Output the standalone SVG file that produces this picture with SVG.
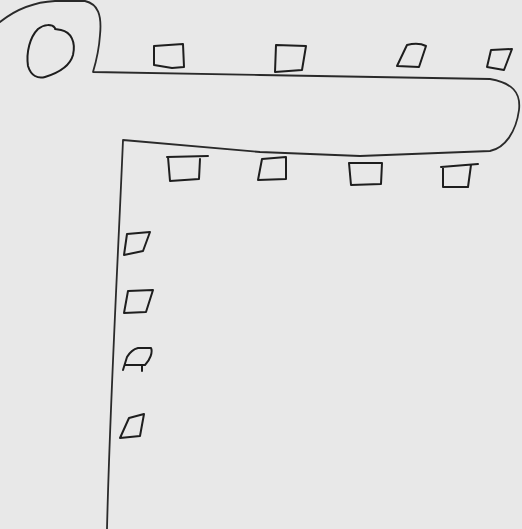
<svg xmlns="http://www.w3.org/2000/svg" width="522" height="529" viewBox="0 0 522 529">
<style>
.s{fill:none;stroke:#1e1e1e;stroke-width:2;stroke-linejoin:round;stroke-linecap:round}
.l{fill:none;stroke:#2a2a2a;stroke-width:1.8;stroke-linecap:round;stroke-linejoin:round}
</style>
<rect width="522" height="529" fill="#e8e8e8"/>
<g id="outline">
<path class="l" d="M0,22 C15,10 35,2 55,1 L85,1 C98,4 102,15 100,35 C99,50 96,62 93,72 L260,75 L490,79 C512,83 521,92 519,110 C516,132 505,148 490,151 L360,156 L260,152 L123,140 C118,260 110,400 107,529"/>
</g>
<g id="circle"><path class="s" d="M55,28 C52,24 44,24 38,29 C30,37 26,52 28,66 C31,76 38,79 45,77 C58,73 70,66 73,55 C76,42 71,32 61,30 L55,29"/></g>
<g id="n1"><path class="s" d="M154,46 L183,44 L184,67 L172,68 L154,65 Z"/></g>
<g id="n2"><path class="s" d="M276,45 L306,46 L302,70 L275,72 Z"/></g>
<g id="n3"><path class="s" d="M407,45 C415,43 422,44 426,46 L419,67 L397,66 Z"/></g>
<g id="n4"><path class="s" d="M491,50 L512,49 L504,70 L487,67 Z"/></g>
<g id="n5"><path class="s" d="M167,157 L208,156 M168,157 L170,181 L199,179 L200,159"/></g>
<g id="n6"><path class="s" d="M262,159 L286,157 L286,179 L258,180 Z"/></g>
<g id="n7"><path class="s" d="M349,163 L382,163 L381,184 L351,185 Z"/></g>
<g id="n8"><path class="s" d="M441,167 L478,164 M443,167 L443,187 L468,187 L471,165"/></g>
<g id="n9"><path class="s" d="M127,234 L150,232 L143,251 L124,255 Z"/></g>
<g id="n10"><path class="s" d="M128,291 L153,290 L146,312 L124,313 Z"/></g>
<g id="n11"><path class="s" d="M123,370 L127,357 C130,352 134,349 138,348 L151,348 C153,352 150,360 145,365 L126,365 M142,366 L142,371"/></g>
<g id="n12"><path class="s" d="M129,418 L144,414 L140,436 L120,438 Z"/></g>
</svg>
